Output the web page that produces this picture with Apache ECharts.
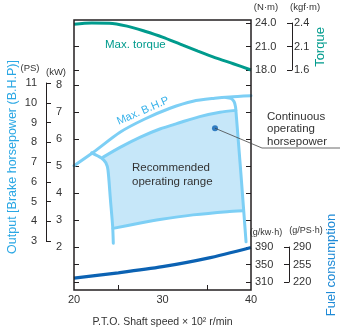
<!DOCTYPE html>
<html>
<head>
<meta charset="utf-8">
<script src="https://cdn.jsdelivr.net/npm/echarts@6/dist/echarts.min.js"></script>
<style>
  html, body { margin: 0; padding: 0; background: #fff; }
  #chart { width: 340px; height: 327px; }
</style>
</head>
<body>
<div id="chart"></div>
<script>
// P.T.O. shaft speed (x 100 r/min)
const speedRange = [20, 40];

// Max. torque, [speed, N·m]
const maxTorque = [[20, 23.83], [22, 24.0], [24, 23.98], [26, 23.6], [28, 22.95], [30, 22.2],
                   [32, 21.3], [34, 20.4], [36, 19.55], [38, 18.8], [40, 18.0]];

// Fuel consumption, [speed, g/kW·h]
const fuelRate = [[20, 319], [25, 331], [30, 345], [35, 364], [40, 389]];

// Max. B.H.P, [speed, kW]
const maxBhp = [[20, 5.01], [22.15, 5.5], [25.2, 6.25], [28, 6.74], [30.85, 7.14],
                [33.45, 7.4], [35.9, 7.51], [37.6, 7.56], [40, 7.6]];

// Right-hand limit of the operating range (drops off the max. B.H.P line)
const governorEdge = [[37.18, 7.54], [37.74, 7.5], [38.08, 7.39], [38.25, 7.19],
                      [38.36, 6.78], [38.87, 4.67], [39.44, 2.19]];

// Left-hand limit of the operating range
const rangeLeftEdge = [[22.0, 5.49], [23.1, 5.3], [23.6, 5.12], [23.84, 4.85],
                       [24.12, 3.74], [24.37, 2.75], [24.44, 2.14]];

// Continuous operating horsepower (top of the recommended range)
const continuousTop = [[23.3, 5.33], [25.2, 5.69], [27.5, 6.07], [29.7, 6.37], [32.0, 6.61],
                       [34.2, 6.83], [36.5, 6.99], [38.28, 7.06]];

// Bottom of the recommended range
const rangeBottom = [[24.41, 2.69], [27.5, 2.89], [29.7, 3.02], [33.45, 3.19], [37.3, 3.31], [39.1, 3.34]];

// Marker for the continuous operating horsepower callout
const continuousPoint = [35.93, 6.4];

// Tick values / labels of the scales
const speedTicks = [20, 30, 40];
const kwRange = [2, 8];
const psRange = [3, 11];
const torqueRange = [18, 24];
const fuelTicks = [310, 350, 390];
const kgfLabels = ['1.6', '2.1', '2.4'];
const gpsLabels = ['220', '255', '290'];

const FONT = 'Liberation Sans';
const INK = '#231f20';
const TXT = '#333333';
const TEAL = '#009b8d';
const SKY = '#7dcff5';
const SKY_FILL = '#c6e7f9';
const NAVY = '#0b62b3';

const chart = echarts.init(document.getElementById('chart'), null, { renderer: 'canvas' });

const tickStyle = { color: INK, width: 1 };
const labelStyle = { color: TXT, fontSize: 11, fontFamily: FONT };

function hiddenX(gridIndex) {
  return { gridIndex, type: 'value', min: speedRange[0], max: speedRange[1], show: false };
}
function tickOnlyY(gridIndex, position, min, max, interval, extra) {
  return Object.assign({
    gridIndex, type: 'value', position, min, max, interval,
    axisLine: { show: false },
    axisTick: { show: true, inside: true, length: 5, lineStyle: tickStyle },
    axisLabel: { show: false },
    splitLine: { show: false }
  }, extra || {});
}
// fixed-position grid (no automatic shrinking to fit labels)
function box(o) {
  return Object.assign({ outerBoundsMode: 'none', containLabel: false }, o);
}

// Fill polygon of the recommended range, assembled from its edges
const bottomStart = rangeBottom[0][1];
const topStart = continuousTop[0][1];
const topEnd = continuousTop[continuousTop.length - 1][1];
const bottomEnd = rangeBottom[rangeBottom.length - 1][1];
const rangeOutline = []
  .concat(continuousTop)
  .concat(governorEdge.filter(p => p[1] < topEnd && p[1] > bottomEnd))
  .concat(rangeBottom.slice().reverse())
  .concat(rangeLeftEdge.filter(p => p[1] > bottomStart && p[1] < topStart).reverse());

function skyLine(data) {
  return {
    type: 'line', xAxisIndex: 1, yAxisIndex: 1, data, smooth: 0.25,
    showSymbol: false, clip: false, silent: true, z: 3,
    lineStyle: { color: SKY, width: 3, cap: 'round', join: 'round' }
  };
}

function note(id, x, y, text, fill, size, extra) {
  return Object.assign({
    type: 'text', id, x, y, z: 20, silent: true,
    style: { text, fill, font: `${size}px "${FONT}"`, align: 'center', verticalAlign: 'middle' }
  }, extra || {});
}

const option = {
  animation: false,
  backgroundColor: '#ffffff',
  grid: [
    box({ left: 74, right: 89, top: 20, bottom: 37, show: true, borderColor: INK, borderWidth: 1.5, backgroundColor: 'transparent', z: 5 }),
    box({ left: 74, right: 89, top: 85, bottom: 80 }),   // kW
    box({ left: 74, right: 89, top: 23, bottom: 257 }),  // N·m
    box({ left: 74, right: 89, top: 247, bottom: 45 }),  // g/kW·h
    box({ left: 46, width: 10, top: 83, bottom: 86 }),   // PS bracket
    box({ left: 282, right: 48, top: 23, bottom: 257 }), // kgf·m bracket
    box({ left: 280, right: 51, top: 247, bottom: 45 })  // g/PS·h bracket
  ],
  xAxis: [
    {
      gridIndex: 0, type: 'value', min: speedRange[0], max: speedRange[1], interval: speedTicks[1] - speedTicks[0],
      axisLine: { show: false },
      axisTick: { show: false, inside: true },
      minorTick: { show: true, splitNumber: 2, length: 5, lineStyle: tickStyle },
      splitLine: { show: false },
      axisLabel: Object.assign({ margin: 4 }, labelStyle),
      name: 'P.T.O. Shaft speed × 10² r/min', nameLocation: 'middle', nameGap: 27,
      nameTextStyle: { color: TXT, fontSize: 10.5, fontFamily: FONT }
    },
    hiddenX(1), hiddenX(2), hiddenX(3), hiddenX(4), hiddenX(5), hiddenX(6)
  ],
  yAxis: [
    { gridIndex: 0, type: 'value', min: 0, max: 1, show: false },
    // kW
    tickOnlyY(1, 'left', kwRange[0], kwRange[1], 1, { axisLabel: Object.assign({ show: true, margin: 12 }, labelStyle) }),
    tickOnlyY(1, 'right', kwRange[0], kwRange[1], 1),
    // N·m
    tickOnlyY(2, 'right', torqueRange[0], torqueRange[1], 3, {
      axisLabel: Object.assign({ show: true, margin: 4, formatter: v => v.toFixed(1) }, labelStyle)
    }),
    tickOnlyY(2, 'left', torqueRange[0], torqueRange[1], 3),
    // g/kW·h
    {
      gridIndex: 3, type: 'value', position: 'right', min: fuelTicks[0], max: fuelTicks[fuelTicks.length - 1],
      axisLine: { show: false },
      axisTick: { show: true, inside: true, length: 5, lineStyle: tickStyle, customValues: fuelTicks },
      axisLabel: Object.assign({ show: true, margin: 4, customValues: fuelTicks }, labelStyle),
      splitLine: { show: false }
    },
    {
      gridIndex: 3, type: 'value', position: 'left', min: fuelTicks[0], max: fuelTicks[fuelTicks.length - 1],
      axisLine: { show: false },
      axisTick: { show: true, inside: true, length: 5, lineStyle: tickStyle, customValues: fuelTicks },
      axisLabel: { show: false },
      splitLine: { show: false }
    },
    // PS bracket
    {
      gridIndex: 4, type: 'value', position: 'left', min: psRange[0], max: psRange[1], interval: 1,
      axisLine: { show: true, lineStyle: { color: INK, width: 1 } },
      axisTick: { show: true, inside: true, length: 5, lineStyle: tickStyle },
      axisLabel: Object.assign({ margin: 9 }, labelStyle),
      splitLine: { show: false }
    },
    // kgf·m bracket
    {
      gridIndex: 5, type: 'category', data: kgfLabels, boundaryGap: false, position: 'right',
      axisLine: { show: true, lineStyle: { color: INK, width: 1 } },
      axisTick: { show: true, inside: true, length: 5, lineStyle: tickStyle },
      axisLabel: Object.assign({ margin: 2 }, labelStyle),
      splitLine: { show: false }
    },
    // g/PS·h bracket
    {
      gridIndex: 6, type: 'category', data: gpsLabels, boundaryGap: false, position: 'right',
      axisLine: { show: true, lineStyle: { color: INK, width: 1 } },
      axisTick: { show: true, inside: true, length: 5, lineStyle: tickStyle },
      axisLabel: Object.assign({ margin: 4 }, labelStyle),
      splitLine: { show: false }
    }
  ],
  series: [
    {
      type: 'custom', xAxisIndex: 1, yAxisIndex: 1, data: [continuousPoint], clip: false, silent: true, z: 1,
      renderItem: (params, api) => ({
        type: 'polygon',
        shape: { points: rangeOutline.map(p => api.coord(p)) },
        style: { fill: SKY_FILL, stroke: null }
      })
    },
    skyLine(maxBhp),
    skyLine(governorEdge),
    skyLine(rangeLeftEdge),
    skyLine(continuousTop),
    skyLine(rangeBottom),
    {
      type: 'line', xAxisIndex: 2, yAxisIndex: 3, data: maxTorque, smooth: 0.3,
      showSymbol: false, clip: false, silent: true, z: 4,
      lineStyle: { color: TEAL, width: 3 }
    },
    {
      type: 'line', xAxisIndex: 3, yAxisIndex: 5, data: fuelRate, smooth: 0.3,
      showSymbol: false, clip: false, silent: true, z: 4,
      lineStyle: { color: NAVY, width: 3.2 }
    },
    {
      type: 'scatter', xAxisIndex: 1, yAxisIndex: 1, data: [continuousPoint],
      symbolSize: 6, silent: true, z: 6,
      itemStyle: { color: NAVY }
    }
  ],
  graphic: [
    note('tq', 105, 45, 'Max. torque', TEAL, 11.5, { style: { text: 'Max. torque', fill: TEAL, font: `11.5px "${FONT}"`, align: 'left', verticalAlign: 'middle' } }),
    note('bhp', 143, 111, 'Max. B.H.P', '#38b2ea', 11, { rotation: 0.41 }),
    note('rec', 132, 161.5, '', TXT, 11.5, { style: { text: 'Recommended\noperating range', fill: TXT, font: `11.5px "${FONT}"`, lineHeight: 13.5, align: 'left', verticalAlign: 'top' } }),
    note('cont', 267, 110.5, '', TXT, 11.5, { style: { text: 'Continuous\noperating\nhorsepower', fill: TXT, font: `11.5px "${FONT}"`, lineHeight: 12.5, align: 'left', verticalAlign: 'top' } }),
    note('uPS', 30, 68, '(PS)', TXT, 9.5),
    note('uKW', 56, 72, '(kW)', TXT, 9.5),
    note('uNm', 266, 7, '(N·m)', TXT, 9.5),
    note('uKgf', 305, 7, '(kgf·m)', TXT, 9.5),
    note('uGkw', 266, 233, '(g/kw·h)', TXT, 9),
    note('uGps', 306, 231, '(g/PS·h)', TXT, 9),
    note('tOut', 13, 157, 'Output [Brake horsepower (B.H.P)]', '#2aa7e4', 12.5, { rotation: Math.PI / 2 }),
    note('tTq', 320, 47, 'Torque', TEAL, 13, { rotation: Math.PI / 2 }),
    note('tFuel', 331.5, 265, 'Fuel consumption', '#1f8ad6', 13, { rotation: Math.PI / 2 })
  ]
};

chart.setOption(option);

// Callout leader from the marker to the "Continuous operating horsepower" note
const dot = chart.convertToPixel({ xAxisIndex: 1, yAxisIndex: 1 }, continuousPoint);
chart.setOption({
  graphic: [{
    type: 'polyline', id: 'leader', z: 10, silent: true,
    shape: { points: [dot, [262, 148], [340, 148]] },
    style: { stroke: '#444', lineWidth: 0.8, fill: null }
  }]
});
</script>
</body>
</html>
